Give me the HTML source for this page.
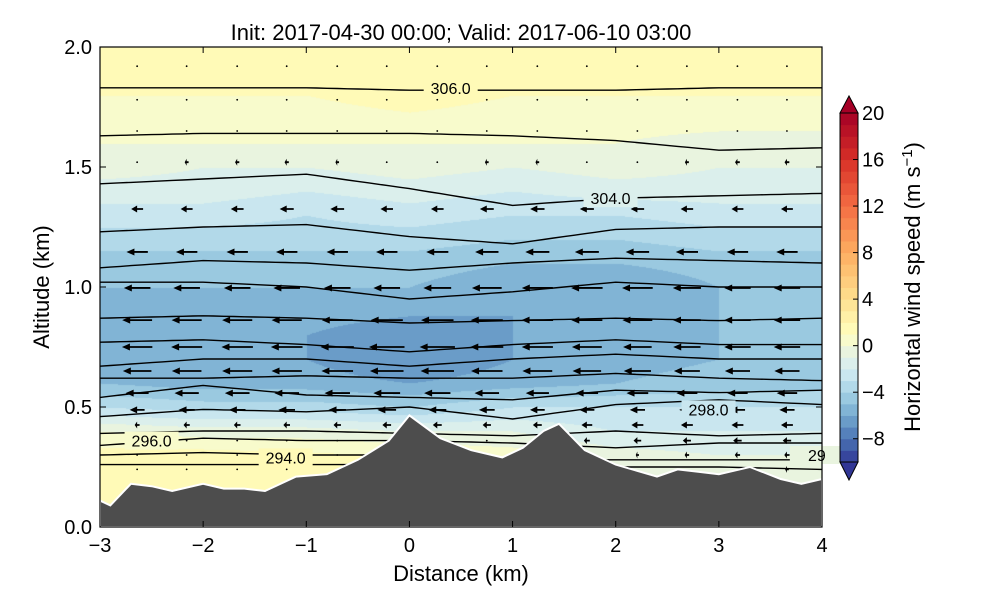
<!DOCTYPE html>
<html><head><meta charset="utf-8"><style>
body{margin:0;background:#fff;width:1000px;height:600px;overflow:hidden;font-family:"Liberation Sans","DejaVu Sans",sans-serif}
#wrap{position:relative;width:1000px;height:600px}
canvas,svg{position:absolute;left:0;top:0}
</style></head><body>
<div id="wrap">
<canvas id="field" width="1000" height="600"></canvas>
<svg id="svg" width="1000" height="600" xmlns="http://www.w3.org/2000/svg"></svg>
</div>
<script>
// ---- data ----
const xCols = [-3,-2,-1,0,1,2,3,4];
const zRows = [0,0.1,0.2,0.3,0.4,0.5,0.6,0.7,0.8,0.9,1.0,1.1,1.2,1.3,1.4,1.5,1.6,1.7,1.8,1.9,2.0];
const uField = [
 [1,1,1,1,0.5,0,-0.5,-0.5],
 [1,1,1,1,0.5,0,-0.5,-0.5],
 [1,1,1,1,0.5,0,-0.5,-0.5],
 [1.5,1.5,1.2,1,0.5,-0.5,-1,-1],
 [0,-0.5,-0.5,-1,-1,-2,-2,-2],
 [-3,-3.5,-3.5,-4,-3,-3,-3,-3],
 [-5,-5.5,-5.5,-6,-5.5,-5,-4.5,-4.5],
 [-5.5,-5.8,-6,-7,-6,-5.5,-5,-5],
 [-5.8,-6,-6,-6.8,-6,-5.5,-5,-5],
 [-5.5,-5.5,-5.5,-5.8,-6,-6,-5,-5],
 [-5,-5,-5,-5,-5.8,-6,-5,-5],
 [-4.5,-4.5,-4.5,-4.5,-5,-5,-4.5,-4.5],
 [-3.5,-3.5,-3.5,-3.5,-4,-4,-3.5,-3.5],
 [-2.5,-2.5,-3,-2.5,-3,-3,-2.5,-2.5],
 [-1.5,-1.5,-2,-1.5,-2,-1.5,-1.5,-1.5],
 [-0.5,-1,-1,-0.5,-1,-0.5,-1,-1],
 [0,0,0,0,0,0,-0.5,-0.5],
 [0.5,0.5,0.5,0.8,0.5,0.5,0.5,0.5],
 [1,1,1,1.5,1,1,1,1],
 [1.5,1.5,1.5,1.5,1.5,1.5,1.5,1.5],
 [1.5,1.5,1.5,1.5,1.5,1.5,1.5,1.5]
];
const terrainX = [-3,-2.9,-2.7,-2.5,-2.3,-2,-1.8,-1.6,-1.4,-1.1,-0.8,-0.5,-0.2,0,0.3,0.6,0.9,1.1,1.3,1.45,1.7,2,2.4,2.6,2.8,3,3.3,3.6,3.8,4];
const terrainZ = [0.11,0.09,0.18,0.17,0.15,0.18,0.16,0.16,0.15,0.21,0.22,0.28,0.36,0.465,0.37,0.32,0.29,0.33,0.40,0.43,0.32,0.26,0.21,0.24,0.23,0.22,0.25,0.2,0.18,0.2];
const contourX = [-3,-2,-1,0,1,2,3,4];
const contours = [
 [1.83,1.83,1.83,1.82,1.82,1.82,1.83,1.83],
 [1.63,1.64,1.64,1.64,1.63,1.61,1.57,1.58],
 [1.43,1.45,1.47,1.41,1.34,1.37,1.38,1.39],
 [1.23,1.25,1.26,1.21,1.18,1.24,1.25,1.25],
 [1.08,1.11,1.10,1.07,1.10,1.12,1.11,1.10],
 [1.02,1.02,1.00,0.95,0.98,1.02,1.00,1.00],
 [0.87,0.88,0.87,0.85,0.86,0.87,0.86,0.87],
 [0.77,0.78,0.76,0.73,0.76,0.78,0.76,0.76],
 [0.67,0.70,0.70,0.67,0.70,0.72,0.70,0.70],
 [0.62,0.62,0.63,0.62,0.62,0.64,0.62,0.61],
 [0.54,0.59,0.55,0.54,0.53,0.57,0.56,0.57],
 [0.46,0.49,0.48,0.50,0.45,0.51,0.53,0.51],
 [0.39,0.40,0.40,0.39,0.38,0.40,0.38,0.39],
 [0.34,0.37,0.36,0.36,0.35,0.33,0.35,0.35],
 [0.30,0.31,0.30,0.30,0.28,0.28,0.28,0.28],
 [0.26,0.26,0.26,0.26,0.26,0.25,0.25,0.24]
];
const contourLabels = [["306.0",0.4,1.83],["304.0",1.95,1.37],["298.0",2.9,0.49],["296.0",-2.5,0.36],["294.0",-1.2,0.29],["29",3.95,0.3]];
const arrowCols = [-2.64,-2.16,-1.67,-1.19,-0.7,-0.22,0.27,0.75,1.24,1.72,2.21,2.69,3.18,3.66];
const arrowRows = [1.92,1.78,1.65,1.52,1.325,1.146,0.996,0.862,0.75,0.65,0.558,0.488,0.425,0.36,0.3,0.24,0.175];
const xTicks = [-3,-2,-1,0,1,2,3,4];
const yTicks = [0.0,0.5,1.0,1.5,2.0];
const cbTicks = [20,16,12,8,4,0,-4,-8];
// ---- scales ----
const X0=100,X1=822,Y0=527,Y1=47;
const sx=x=>X0+(x+3)/7*(X1-X0);
const sy=z=>Y0-z/2*(Y0-Y1);
const cbTop=113,cbBot=462,cbX=840,cbW=18;
const cy=v=>cbBot-(v+10)/30*(cbBot-cbTop);
const cstops=[[-10,[49,54,149]],[-8,[74,116,180]],[-6,[116,169,207]],[-4,[166,211,230]],[-2,[212,236,242]],[0,[240,247,216]],[1,[255,255,191]],[4,[254,224,143]],[8,[253,174,97]],[12,[244,109,67]],[16,[215,48,39]],[20,[165,0,38]]];
function cmap(v){v=Math.max(-10,Math.min(19.99,v));for(let i=0;i<cstops.length-1;i++){const a=cstops[i],b=cstops[i+1];if(v<=b[0]){const t=(v-a[0])/(b[0]-a[0]);return a[1].map((c,k)=>Math.round(c+(b[1][k]-c)*t));}}return cstops[cstops.length-1][1];}
function lvlColor(v){const l=Math.floor(v);return cmap(l+0.5);}
function interp1(xs,ys,x){if(x<=xs[0])return ys[0];for(let i=0;i<xs.length-1;i++){if(x<=xs[i+1]){const t=(x-xs[i])/(xs[i+1]-xs[i]);return ys[i]+(ys[i+1]-ys[i])*t;}}return ys[ys.length-1];}
function u(x,z){const col=zRows.map((_,r)=>interp1(xCols,uField[r],x));return interp1(zRows,col,z);}
const cv=document.getElementById('field').getContext('2d');
const W=X1-X0,H=Y0-Y1;
const img=cv.createImageData(W,H);
for(let py=0;py<H;py++){const z=(H-py)/H*2;for(let px=0;px<W;px++){const x=-3+px/W*7;const c=lvlColor(u(x,z));const i=(py*W+px)*4;img.data[i]=c[0];img.data[i+1]=c[1];img.data[i+2]=c[2];img.data[i+3]=255;}}
cv.putImageData(img,X0,Y1);
const S=document.getElementById('svg');const NS='http://www.w3.org/2000/svg';
function el(t,a,p){const e=document.createElementNS(NS,t);for(const k in a)e.setAttribute(k,a[k]);(p||S).appendChild(e);return e;}
const gC=el('g',{});


contours.forEach(c=>{let d='';for(let k=0;k<=70;k++){const x=-3+k*0.1;d+=(k?'L':'M')+sx(x).toFixed(1)+','+sy(interp1(contourX,c,x)).toFixed(1);}
const p=el('path',{d:d,fill:'none',stroke:'#000','stroke-width':1.4},gC);

});
const gA=el('g',{});


arrowCols.forEach(x=>{arrowRows.forEach(z=>{const tz=interp1(terrainX,terrainZ,x);if(z<tz+0.02)return;const v=u(x,z);const L=v*5.3;const px=sx(x),py=sy(z);
if(v>-0.6){const d=el('circle',{cx:px,cy:py,r:0.9,fill:'#000'},gA);return;}
const tipx=px+L/2,tailx=px-L/2,hl=Math.min(8,Math.abs(L)*0.5),dir=Math.sign(L);
const p=el('path',{d:`M${tailx},${py-0.9}L${tipx-dir*hl},${py-0.9}L${tipx-dir*hl},${py-3.5}L${tipx},${py}L${tipx-dir*hl},${py+3.5}L${tipx-dir*hl},${py+0.9}L${tailx},${py+0.9}Z`,fill:'#000'},gA);

});});
contourLabels.forEach(l=>{const bx=sx(l[1]),by=sy(l[2]);
const r=el('rect',{x:bx-27,y:by-9,width:54,height:18,fill:`rgb(${lvlColor(u(l[1],l[2])).join(',')})`});

const t=el('text',{x:bx,y:by+6,'text-anchor':'middle','font-size':16,fill:'#000'});t.textContent=l[0];
});
let td=`M${sx(-3)},${Y0}`;terrainX.forEach((x,i)=>td+=`L${sx(x).toFixed(1)},${sy(terrainZ[i]).toFixed(1)}`);td+=`L${sx(4)},${Y0}Z`;
const ter=el('path',{d:td,fill:'#4d4d4d',stroke:'#fff','stroke-width':2});

const fr=el('rect',{x:X0,y:Y1,width:X1-X0,height:Y0-Y1,fill:'none',stroke:'#000','stroke-width':1.2});

xTicks.forEach(t=>{el('line',{x1:sx(t),x2:sx(t),y1:Y0,y2:Y0-6,stroke:'#000'});el('line',{x1:sx(t),x2:sx(t),y1:Y1,y2:Y1+6,stroke:'#000'});
const tx=el('text',{x:sx(t),y:Y0+25,'text-anchor':'middle','font-size':20});tx.textContent=(t<0?'\u2212'+(-t):t);
});
yTicks.forEach(t=>{el('line',{x1:X0,x2:X0+6,y1:sy(t),y2:sy(t),stroke:'#000'});el('line',{x1:X1,x2:X1-6,y1:sy(t),y2:sy(t),stroke:'#000'});
const tx=el('text',{x:X0-8,y:sy(t)+7,'text-anchor':'end','font-size':20});tx.textContent=t.toFixed(1);
});
const xt=el('text',{x:461,y:581,'text-anchor':'middle','font-size':22});xt.textContent='Distance (km)';

const yt=el('text',{x:0,y:0,'text-anchor':'middle','font-size':22,transform:'translate(49,287) rotate(-90)'});yt.textContent='Altitude (km)';

const ti=el('text',{x:461,y:40,'text-anchor':'middle','font-size':22});ti.textContent='Init: 2017-04-30 00:00; Valid: 2017-06-10 03:00';

const gB=el('g',{});


for(let v=-10;v<20;v++){const r=el('rect',{x:cbX,y:cy(v+1),width:cbW,height:cy(v)-cy(v+1)+0.5,fill:`rgb(${cmap(v+0.5).join(',')})`},gB);
}
el('path',{d:`M${cbX},${cbTop}L${cbX+cbW/2},${cbTop-17}L${cbX+cbW},${cbTop}Z`,fill:'#a50026',stroke:'#000','stroke-width':1},gB);
el('path',{d:`M${cbX},${cbBot}L${cbX+cbW/2},${cbBot+18}L${cbX+cbW},${cbBot}Z`,fill:'#313695',stroke:'#000','stroke-width':1},gB);
el('rect',{x:cbX,y:cbTop,width:cbW,height:cbBot-cbTop,fill:'none',stroke:'#000','stroke-width':1},gB);
cbTicks.forEach(t=>{el('line',{x1:cbX+cbW-5,x2:cbX+cbW,y1:cy(t),y2:cy(t),stroke:'#000'},gB);
const tx=el('text',{x:cbX+cbW+4,y:cy(t)+7,'font-size':20},gB);tx.textContent=(t<0?'\u2212'+(-t):t);
});
const cl=el('text',{x:0,y:0,'text-anchor':'middle','font-size':22,transform:'translate(920,287) rotate(-90)'});
cl.innerHTML='Horizontal wind speed (m s<tspan dy="-8" font-size="15">\u22121</tspan><tspan dy="8">)</tspan>';

</script>
</body></html>
